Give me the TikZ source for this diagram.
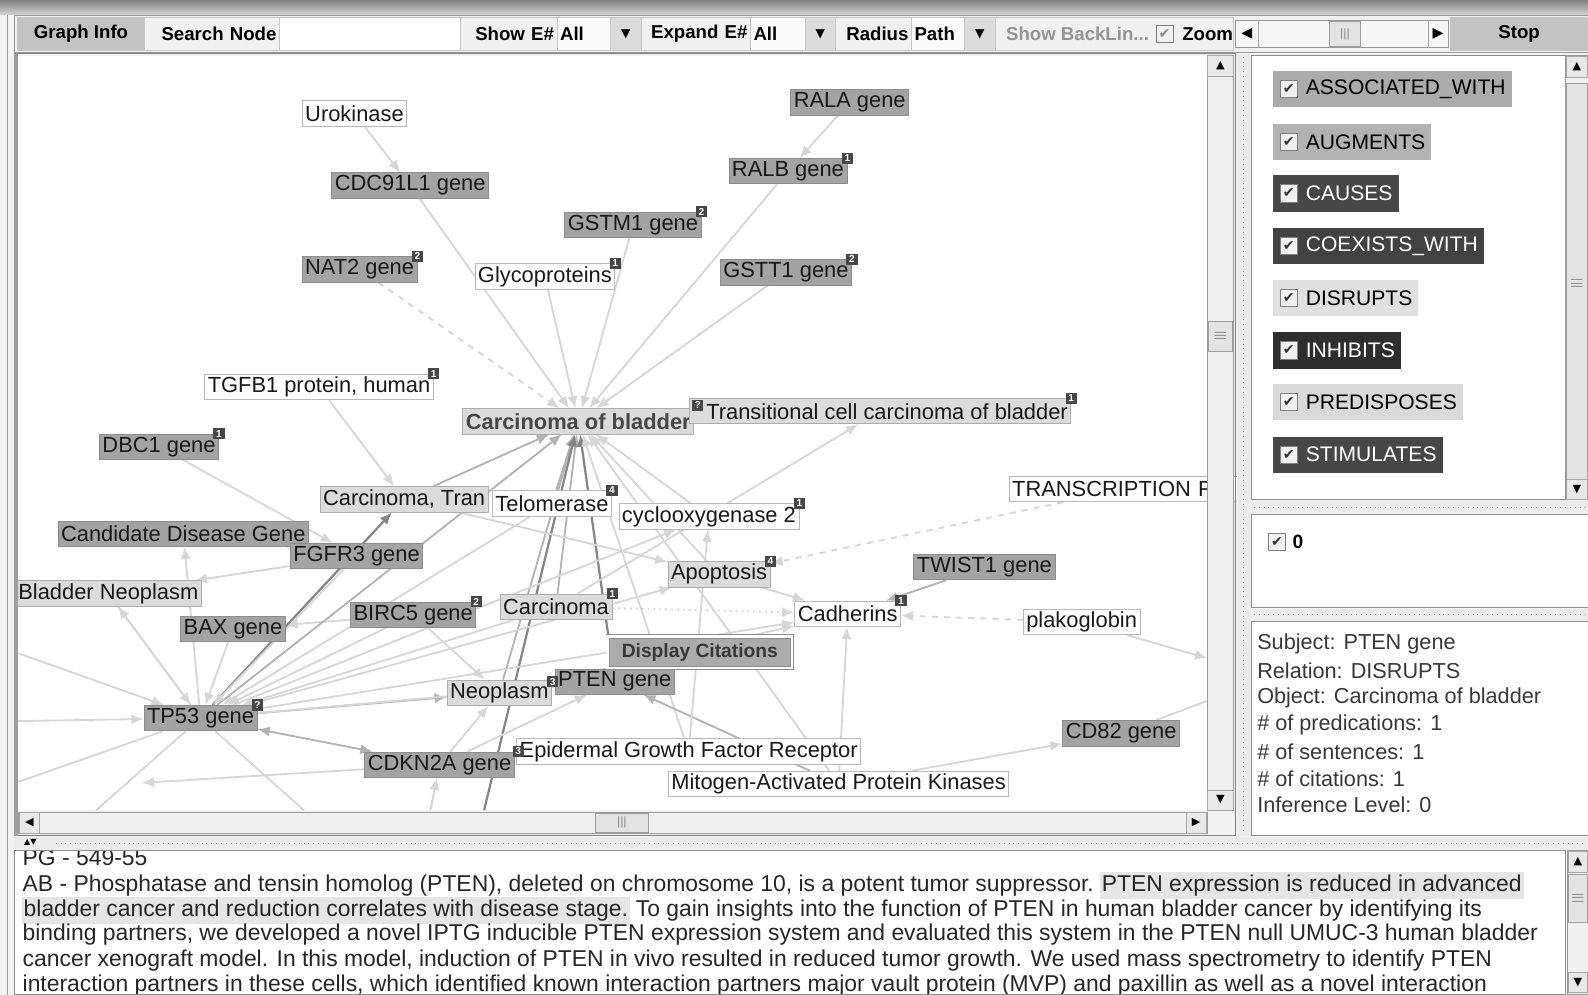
\documentclass[tikz,border=0pt]{standalone}
\usepackage{fontspec}
\setmainfont{Liberation Sans}
\newfontfamily\symfont{DejaVu Sans}
\usetikzlibrary{arrows.meta,positioning,backgrounds}

\begin{document}
\begin{tikzpicture}[x=0.5pt, y=-0.5pt,
        gene/.style={rectangle, draw=black!45, fill=black!36, text=black!90, inner xsep=1.5pt, inner ysep=0pt, minimum height=12.5pt, font=\fontsize{10.8}{12}\selectfont},
        concept/.style={gene, draw=black!32, fill=black!14},
        plain/.style={gene, draw=black!28, fill=white},
        badge/.style={rectangle, anchor=center, fill=black!72, text=white, inner sep=0.6pt, minimum size=5.5pt, font=\fontsize{5}{5}\selectfont\bfseries},
        link/.style={draw=black!16, line width=0.9pt, -{Latex[length=6pt, width=5pt]}},
        midlink/.style={link, draw=black!30},
        hardlink/.style={link, draw=black!48, line width=1.1pt},
        linkboth/.style={midlink, {Latex[length=6pt, width=5pt]}-{Latex[length=6pt, width=5pt]}},
        tool/.style={rectangle, draw=black!22, fill=black!6, minimum height=16.5pt, inner xsep=1.5pt, inner ysep=0pt, font=\fontsize{9.2}{11}\selectfont\bfseries},
        toolbtn/.style={tool, fill=black!24},
        combo/.style={tool, fill=black!2, align=left},
        dropbtn/.style={tool, fill=black!14, minimum width=15pt, font=\symfont\fontsize{6}{6}\selectfont},
        checkbox/.style={rectangle, draw=black!50, fill=black!6, minimum size=8.5pt, inner sep=0pt, text=black!80, font=\symfont\fontsize{7}{7}\selectfont},
        relation/.style={rectangle, anchor=west, minimum height=18pt, inner xsep=3pt, inner ysep=0pt, font=\fontsize{10.4}{12}\selectfont},
        info/.style={anchor=west, inner sep=0pt, text=black!78, font=\fontsize{10.7}{12}\selectfont},
        abstract/.style={anchor=base west, inner xsep=0pt, inner ysep=1.5pt, text=black!85, font=\fontsize{11.3}{12}\selectfont},
        panel/.style={draw=black!45, fill=white},
        scrolltrack/.style={draw=black!40, fill=black!6},
        arrowbtn/.style={rectangle, draw=black!35, fill=black!9, inner sep=0pt, minimum width=12pt, minimum height=10pt, font=\symfont\fontsize{5.5}{6}\selectfont},
        thumb/.style={rectangle, draw=black!38, fill=black!11, inner sep=0pt},
        grip/.style={inner sep=0pt, text=black!45, font=\fontsize{6}{6}\selectfont},
    ]
    \useasboundingbox (0,0) rectangle (1568,982);

    % Window and canvas
    \begin{scope}[on background layer]
        \fill[black!5] (0,0) rectangle (1568,982);
        \fill[white] (18,55) rectangle (1192,800);
    \end{scope}

    % Graph nodes
    \node[plain] (urokinase) at (350,112) {Urokinase};
    \node[gene] (cdc91l1) at (405,183) {CDC91L1 gene};
    \node[gene] (rala) at (839,101) {RALA gene};
    \node[gene, label={[badge]north east:1}] (ralb) at (778,169) {RALB gene};
    \node[gene, label={[badge]north east:2}] (gstm1) at (625,222) {GSTM1 gene};
    \node[gene, label={[badge]north east:2}] (nat2) at (355,266) {NAT2 gene};
    \node[plain, label={[badge]north east:1}] (glyco) at (538,273) {Glycoproteins};
    \node[gene, label={[badge]north east:2}] (gstt1) at (776,269) {GSTT1 gene};
    \node[plain, label={[badge]north east:1}] (tgfb1) at (315,382) {TGFB1 protein, human};
    \node[concept, font=\fontsize{10.8}{12}\selectfont\bfseries, text=black!72] (bladder) at (571,416) {Carcinoma of bladder};
    \node[concept, anchor=west, label={[badge]north east:1}, label={[badge, xshift=4.5pt, yshift=-3.5pt]north west:?}] (transit) at (680,406) {\hspace*{7pt}Transitional cell carcinoma of bladder};
    \node[gene, label={[badge]north east:1}] (dbc1) at (157,441) {DBC1 gene};
    \node[plain, anchor=west, text width=112pt, align=left] (transcr) at (996,483) {TRANSCRIPTION F.};
    \node[concept] (carctran) at (399,493) {Carcinoma, Tran};
    \node[plain, label={[badge]north east:4}] (telomerase) at (545,497) {Telomerase};
    \node[plain, label={[badge]north east:1}] (cox2) at (700,510) {cyclooxygenase 2};
    \node[gene] (candidate) at (181,527) {Candidate Disease Gene};
    \node[gene] (fgfr3) at (352,549) {FGFR3 gene};
    \node[concept, label={[badge]north east:4}] (apoptosis) at (710,567) {Apoptosis};
    \node[gene] (twist1) at (972,560) {TWIST1 gene};
    \node[concept] (bladneo) at (107,586) {Bladder Neoplasm};
    \node[gene, label={[badge]north east:2}] (birc5) at (408,607) {BIRC5 gene};
    \node[concept, label={[badge]north east:1}] (carcinoma) at (549,599) {Carcinoma};
    \node[plain, label={[badge]north east:1}] (cadherins) at (837,606) {Cadherins};
    \node[plain] (plakoglobin) at (1068,614) {plakoglobin};
    \node[gene] (bax) at (230,621) {BAX gene};
    \node[concept] (neoplasm) at (493,684) {Neoplasm};
    \node[gene, label={[badge, xshift=-1pt]west:3}] (pten) at (607,673) {PTEN gene};
    \node[gene, label={[badge]north east:?}] (tp53) at (198,709) {TP53 gene};
    \node[gene] (cd82) at (1107,724) {CD82 gene};
    \node[gene] (cdkn2a) at (434,755) {CDKN2A gene};
    \node[plain, label={[badge, xshift=1pt]west:3}] (egfr) at (680,742) {Epidermal Growth Factor Receptor};
    \node[plain] (mitogen) at (828,774) {Mitogen-Activated Protein Kinases};

    % Popup
    \node[rectangle, draw=black!45, double=white, double distance=1.2pt, fill=black!33, minimum width=91pt, minimum height=15pt, text=black!78, font=\fontsize{9.5}{11}\selectfont\bfseries] (citations) at (691,644) {Display Citations};

    % Ends of links that leave the canvas
    \coordinate (w1) at (18,645);
    \coordinate (w2) at (18,712);
    \coordinate (w3) at (18,772);
    \coordinate (s1) at (95,800);
    \coordinate (s2) at (300,800);
    \coordinate (s3) at (425,800);
    \coordinate (s4) at (478,800);
    \coordinate (e1) at (1192,650);
    \coordinate (e2) at (1192,692);
    \coordinate (cdkend) at (140,773);

    % Links
    \begin{scope}[on background layer]
        \draw[link] (urokinase) -- (cdc91l1);
        \draw[link] (cdc91l1) -- (bladder);
        \draw[link] (rala) -- (ralb);
        \draw[link] (ralb) -- (bladder);
        \draw[link] (gstm1) -- (bladder);
        \draw[link, dashed] (nat2) -- (bladder);
        \draw[link] (glyco) -- (bladder);
        \draw[link] (gstt1) -- (bladder);
        \draw[link] (tgfb1) -- (carctran);
        \draw[link] (dbc1) -- (fgfr3);
        \draw[midlink] (carctran) -- (bladder);
        \draw[midlink] (telomerase) -- (bladder);
        \draw[midlink] (carcinoma) -- (bladder);
        \draw[hardlink] (pten) -- (bladder);
        \draw[midlink] (neoplasm) -- (bladder);
        \draw[hardlink] (s4) -- (bladder);
        \draw[link] (egfr) -- (bladder);
        \draw[link] (mitogen) -- (bladder);
        \draw[link] (apoptosis) -- (bladder);
        \draw[link] (cox2) -- (bladder);
        \draw[link] (carcinoma) -- (transit);
        \draw[link, dashed] (transcr) -- (apoptosis);
        \draw[midlink] (twist1) -- (cadherins);
        \draw[link, dashed] (plakoglobin) -- (cadherins);
        \draw[link] (plakoglobin) -- (e1);
        \draw[link, -] (e2) -- (cd82);
        \draw[link] (mitogen) -- (cd82);
        \draw[link] (mitogen) -- (cadherins);
        \draw[midlink] (mitogen) -- (pten);
        \draw[link] (egfr) -- (cox2);
        \draw[link] (carctran) -- (apoptosis);
        \draw[link] (apoptosis) -- (cadherins);
        \draw[link, dotted] (carcinoma) -- (cadherins);
        \draw[link] (fgfr3) -- (bladneo);
        \draw[link] (fgfr3) -- (candidate);
        \draw[link] (tp53) -- (candidate);
        \draw[link] (tp53) -- (bladneo);
        \draw[link] (bax) -- (tp53);
        \draw[link] (birc5) -- (bax);
        \draw[link] (birc5) -- (tp53);
        \draw[link] (carcinoma) -- (tp53);
        \draw[link] (telomerase) -- (tp53);
        \draw[hardlink] (tp53) -- (carctran);
        \draw[midlink] (tp53) -- (bladder);
        \draw[midlink] (tp53) -- (neoplasm);
        \draw[linkboth] (tp53) -- (cdkn2a);
        \draw[link] (cdkn2a) -- (neoplasm);
        \draw[link] (birc5) -- (neoplasm);
        \draw[link] (cdkn2a) -- (cdkend);
        \draw[link] (w1) -- (tp53);
        \draw[link] (w2) -- (tp53);
        \draw[link, -] (tp53) -- (w3);
        \draw[link, -] (tp53) -- (s1);
        \draw[link, -] (tp53) -- (s2);
        \draw[link] (s3) -- (cdkn2a);
        \draw[link] (tp53) -- (cox2);
        \draw[link] (tp53) -- (apoptosis);
        \draw[link] (tp53) -- (cadherins);
        \draw[link] (tp53) -- (pten);
        \draw[link] (fgfr3) -- (tp53);
        \draw[link] (bladneo) -- (tp53);
        \draw[link] (neoplasm) -- (cadherins);
        \draw[link] (cdkn2a) -- (pten);
    \end{scope}

    % Title strip and toolbar
    \shade[top color=black!50, bottom color=black!18] (0,0) rectangle (1568,14);
    \draw[black!40, fill=black!6] (14,15) rectangle (1568,52);
    \node[toolbtn, minimum width=63pt] (graphinfo) at (80,33.5) {Graph Info};
    \node[tool, text width=63.5pt, align=right] (searchlbl) at (209.5,33.5) {Search Node};
    \node[tool, fill=white, minimum width=89.5pt] (searchfield) at (365.5,33.5) {};
    \node[tool, text width=44.5pt, align=right] (showlbl) at (502.5,33.5) {Show E\#};
    \node[combo, text width=23.5pt] (showcombo) at (576.5,33.5) {All};
    \node[dropbtn] (showdrop) at (618,33.5) {▼};
    \node[tool, text width=51pt, align=right] (expandlbl) at (687,33.5) {Expand E\#};
    \node[combo, text width=24pt] (expandcombo) at (768,33.5) {All};
    \node[dropbtn] (expanddrop) at (810,33.5) {▼};
    \node[tool, text width=34.5pt, align=right] (radiuslbl) at (862.5,33.5) {Radius};
    \node[combo, text width=23pt] (radiuscombo) at (926,33.5) {Path};
    \node[dropbtn] (radiusdrop) at (967.5,33.5) {▼};
    \node[tool, minimum width=117.5pt] (backarea) at (1100.5,33.5) {};
    \node[tool, draw=none, fill=none, anchor=west, text=black!42] (backlbl) at (990,33.5) {Show BackLin...};
    \node[checkbox, text=black!45] (backcheck) at (1150,33.5) {✔};
    \node[tool, draw=none, fill=none, anchor=west] (zoomlbl) at (1164,33.5) {Zoom};
    \node[rectangle, draw=black!40, fill=black!4, minimum width=105pt, minimum height=13.5pt] (zslider) at (1325,33.5) {};
    \node[inner sep=0pt, font=\symfont\fontsize{7}{7}\selectfont] (zleft) at (1231,33.5) {◀};
    \node[inner sep=0pt, font=\symfont\fontsize{7}{7}\selectfont] (zright) at (1420,33.5) {▶};
    \draw[black!35] (1243,20) -- (1243,47);
    \draw[black!35] (1410,20) -- (1410,47);
    \node[thumb, minimum width=15pt, minimum height=12.5pt] (zthumb) at (1328,33.5) {};
    \node[grip] (zgrip) at (zthumb) {|||};
    \node[toolbtn, minimum width=68pt] (stop) at (1500,33.5) {Stop};

    % Graph panel frame and scrollbars
    \draw[black!50] (14,53) rectangle (1220,825);
    \fill[black!38] (14,53) rectangle (18,825);
    \draw[scrolltrack] (1192,55) rectangle (1218,800);
    \node[arrowbtn, minimum width=12.5pt] (gvup) at (1205,65) {▲};
    \node[thumb, minimum width=12pt, minimum height=15pt] (gvthumb) at (1205,332) {};
    \node[grip] (gvgrip) at (gvthumb) {\rotatebox{90}{|||}};
    \node[arrowbtn, minimum width=12.5pt] (gvdown) at (1205,790) {▼};
    \draw[scrolltrack] (18,802) rectangle (1192,823);
    \node[arrowbtn, minimum width=10pt] (ghleft) at (29,812.5) {◀};
    \node[thumb, minimum width=26pt, minimum height=9.5pt] (ghthumb) at (614,812.5) {};
    \node[grip] (ghgrip) at (ghthumb) {|||};
    \node[arrowbtn, minimum width=10pt] (ghright) at (1181,812.5) {▶};

    % Splitters
    \fill[black!8] (1221,53) rectangle (1235,825);
    \draw[black!40, dotted] (1228,56) -- (1228,822);
    \fill[black!8] (14,826) rectangle (1568,840);
    \draw[black!40, dotted] (55,833) -- (1566,833);
    \node[inner sep=0pt, font=\symfont\fontsize{4}{4}\selectfont] (split) at (30,832) {▲▼};

    % Relation list
    \draw[panel] (1236,55) rectangle (1568,493);
    \draw[scrolltrack] (1546,55) rectangle (1568,493);
    \node[arrowbtn, minimum width=10pt] (rvup) at (1557,66) {▲};
    \node[thumb, minimum width=10pt, minimum height=198pt] (rvthumb) at (1557,280) {};
    \node[grip] (rvgrip) at (rvthumb) {\rotatebox{90}{|||}};
    \node[arrowbtn, minimum width=10pt] (rvdown) at (1557,483) {▼};

    \node[relation, fill=black!33] (rassoc) at (1257,88) {\hspace*{13pt}ASSOCIATED\_WITH};
    \node[relation, fill=black!30] (raugm) at (1257,140) {\hspace*{13pt}AUGMENTS};
    \node[relation, fill=black!72, text=white] (rcause) at (1257,191) {\hspace*{13pt}CAUSES};
    \node[relation, fill=black!74, text=white] (rcoex) at (1257,243) {\hspace*{13pt}COEXISTS\_WITH};
    \node[relation, fill=black!12] (rdisr) at (1257,294) {\hspace*{13pt}DISRUPTS};
    \node[relation, fill=black!82, text=white] (rinhib) at (1257,346) {\hspace*{13pt}INHIBITS};
    \node[relation, fill=black!15] (rpred) at (1257,397) {\hspace*{13pt}PREDISPOSES};
    \node[relation, fill=black!72, text=white] (rstim) at (1257,449) {\hspace*{13pt}STIMULATES};
    \node[checkbox] (cassoc) at ([xshift=7.75pt]rassoc.west) {✔};
    \node[checkbox] (caugm) at ([xshift=7.75pt]raugm.west) {✔};
    \node[checkbox] (ccause) at ([xshift=7.75pt]rcause.west) {✔};
    \node[checkbox] (ccoex) at ([xshift=7.75pt]rcoex.west) {✔};
    \node[checkbox] (cdisr) at ([xshift=7.75pt]rdisr.west) {✔};
    \node[checkbox] (cinhib) at ([xshift=7.75pt]rinhib.west) {✔};
    \node[checkbox] (cpred) at ([xshift=7.75pt]rpred.west) {✔};
    \node[checkbox] (cstim) at ([xshift=7.75pt]rstim.west) {✔};

    % Level list
    \fill[black!8] (1236,494) rectangle (1568,507);
    \draw[black!40, dotted] (1238,501) -- (1566,501);
    \draw[panel] (1236,508) rectangle (1568,600);
    \node[checkbox] (clevel) at (1261,535) {✔};
    \node[anchor=west, inner sep=0pt, font=\fontsize{9.5}{11}\selectfont\bfseries] (level) at (1276,535) {0};
    \fill[black!8] (1236,601) rectangle (1568,613);
    \draw[black!40, dotted] (1238,607) -- (1566,607);

    % Predication details
    \draw[panel] (1236,614) rectangle (1568,825);
    \node[info] (isubj) at (1241,636) {Subject: PTEN gene};
    \node[info] (irel) at (1241,662.5) {Relation: DISRUPTS};
    \node[info] (iobj) at (1241,689) {Object: Carcinoma of bladder};
    \node[info] (ipred) at (1241,715.5) {\# of predications: 1};
    \node[info] (isent) at (1241,742) {\# of sentences: 1};
    \node[info] (icit) at (1241,768.5) {\# of citations: 1};
    \node[info] (iinf) at (1241,795) {Inference Level: 0};

    % Citation text
    \draw[panel] (14,840) rectangle (1546,982);
    \draw[scrolltrack] (1548,840) rectangle (1568,982);
    \node[arrowbtn, minimum width=9pt] (tvup) at (1558,851) {▲};
    \node[thumb, minimum width=9pt, minimum height=24pt] (tvthumb) at (1558,887) {};
    \node[grip] (tvgrip) at (tvthumb) {\rotatebox{90}{|||}};
    \node[arrowbtn, minimum width=9pt] (tvdown) at (1558,970) {▼};
    \begin{scope}
        \clip (15,841) rectangle (1545,981);
        \node[abstract] (ab0) at (22,855) {PG - 549-55};
        \node[abstract] (ab1) at (22,880) {AB - Phosphatase and tensin homolog (PTEN), deleted on chromosome 10, is a potent tumor suppressor.};
        \node[abstract, fill=black!10, inner xsep=1pt] (ab1hl) at ([xshift=2.5pt]ab1.base east) {PTEN expression is reduced in advanced};
        \node[abstract, fill=black!10, inner xsep=1pt] (ab2hl) at (21,905) {bladder cancer and reduction correlates with disease stage.};
        \node[abstract] (ab2) at ([xshift=2.5pt]ab2hl.base east) {To gain insights into the function of PTEN in human bladder cancer by identifying its};
        \node[abstract] (ab3) at (22,929) {binding partners, we developed a novel IPTG inducible PTEN expression system and evaluated this system in the PTEN null UMUC-3 human bladder};
        \node[abstract] (ab4) at (22,954) {cancer xenograft model. In this model, induction of PTEN in vivo resulted in reduced tumor growth. We used mass spectrometry to identify PTEN};
        \node[abstract] (ab5) at (22,979) {interaction partners in these cells, which identified known interaction partners major vault protein (MVP) and paxillin as well as a novel interaction};
    \end{scope}
    \draw[black!40] (7,15) -- (7,982);
\end{tikzpicture}
\end{document}
